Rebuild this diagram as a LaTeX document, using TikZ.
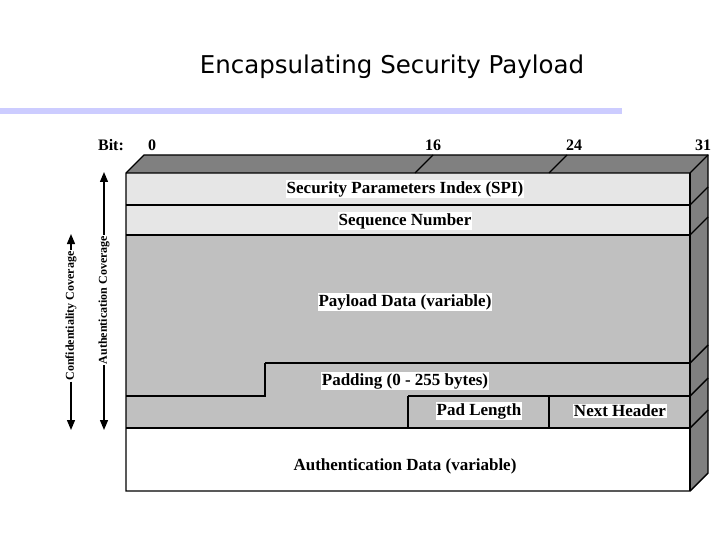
\documentclass[tikz,border=0pt]{standalone}
\usepackage{fontspec}
\setmainfont{Liberation Serif}
\newfontfamily\titlefont{DejaVu Sans}
\begin{document}
\begin{tikzpicture}[x=1pt,y=-1pt,
  lbl/.style={fill=white,inner sep=1pt,font=\bfseries\fontsize{17}{19}\selectfont},
  bitlbl/.style={font=\bfseries\fontsize{16}{18}\selectfont},
  edge/.style={line width=1.4pt,line join=miter},
  cov/.style={line width=1.3pt,-{Triangle[length=10pt,width=8pt]}},
  covlbl/.style={fill=white,rotate=90,inner sep=1pt,font=\bfseries\fontsize{12}{14}\selectfont}]
\usetikzlibrary{arrows.meta}
\useasboundingbox (0,0) rectangle (720,540);
\definecolor{lav}{RGB}{204,204,255}
\definecolor{lg}{RGB}{230,230,230}
\definecolor{mg}{RGB}{192,192,192}
\definecolor{dg}{RGB}{128,128,128}
\node (title) at (392,67) {\titlefont\fontsize{24.5}{28}\selectfont Encapsulating Security Payload};
\fill[lav] (0,108) rectangle (622,114);
% faces
\fill[dg] (126,173) -- (144,155) -- (708,155) -- (690,173) -- cycle;
\fill[dg] (690,173) -- (708,155) -- (708,473) -- (690,491) -- cycle;
\fill[lg] (126,173) rectangle (690,235);
\fill[mg] (126,235) rectangle (690,428);
\fill[white] (126,428) rectangle (690,491);
% lines
\draw[edge] (126,173) -- (144,155) -- (708,155) -- (708,473) -- (690,491) -- (126,491) -- cycle;
\draw[edge] (126,173) -- (690,173) -- (708,155);
\draw[edge] (690,173) -- (690,491);
\foreach \y in {205,235,428} \draw[edge] (126,\y) -- (690,\y);
\foreach \y in {205,235,363,396,428} \draw[edge] (690,\y) -- (708,\y-18);
\draw[edge] (265,363) -- (690,363);
\draw[edge] (126,396) -- (265,396) -- (265,363);
\draw[edge] (408,396) -- (690,396);
\draw[edge] (408,396) -- (408,428);
\draw[edge] (549,396) -- (549,428);
\draw[edge] (415,173) -- (433,155);
\draw[edge] (549,173) -- (567,155);
% bit labels
\node[bitlbl] (bit) at (111,145) {Bit:};
\node[bitlbl] (b0) at (152,145) {0};
\node[bitlbl] (b16) at (433,145) {16};
\node[bitlbl] (b24) at (574,145) {24};
\node[bitlbl] (b31) at (703,145) {31};
% field labels
\node[lbl] (spi) at (405,189) {Security Parameters Index (SPI)};
\node[lbl] (seq) at (405,221) {Sequence Number};
\node[lbl] (pay) at (405,302) {Payload Data (variable)};
\node[lbl] (pad) at (405,381) {Padding (0 - 255 bytes)};
\node[lbl] (pl) at (479,411) {Pad Length};
\node[lbl] (nh) at (620,411) {Next Header};
\node[lbl] (auth) at (405,466) {Authentication Data (variable)};
% coverage arrows
\coordinate (at) at (104,172);
\coordinate (ab) at (104,430);
\coordinate (ct) at (71,234);
\coordinate (cb) at (71,430);
\node[covlbl] (acl) at (104,300) {Authentication Coverage};
\node[covlbl] (ccl) at (71,316) {Confidentiality Coverage};
\draw[cov] (acl.east) -- (at);
\draw[cov] (acl.west) -- (ab);
\draw[cov] (ccl.east) -- (ct);
\draw[cov] (ccl.west) -- (cb);
\end{tikzpicture}
\end{document}
